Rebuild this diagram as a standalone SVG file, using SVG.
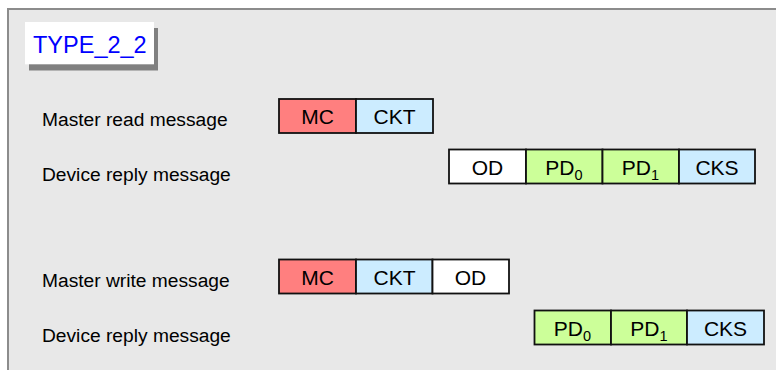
<svg xmlns="http://www.w3.org/2000/svg" width="776" height="370" viewBox="0 0 776 370">
<style>
.lbl{font-family:"Liberation Sans",Arial,sans-serif;font-size:19.2px;fill:#000}
.bt{font-family:"Liberation Sans",Arial,sans-serif;font-size:21px;fill:#000;text-anchor:middle}
.sub{font-size:14.5px}
.box{stroke:#111;stroke-width:1.8}
.mc{fill:#FF7F7F}
.ck{fill:#CCECFF}
.pd{fill:#CCFF99}
.od{fill:#FFFFFF}
</style>
<rect x="0" y="0" width="776" height="370" fill="#FFFFFF"/>
<rect x="8" y="9" width="780" height="380" fill="#E8E8E8" stroke="#8C8C8C" stroke-width="2"/>
<g id="title">
<rect x="29" y="28" width="129" height="42.5" fill="#808080"/>
<rect x="25" y="22" width="129" height="42.3" fill="#FFFFFF"/>
<text x="33" y="53.3" font-family="Liberation Sans, Arial, sans-serif" font-size="23.5" fill="#0000FF">TYPE_2_2</text>
</g>
<g id="labels">
<text class="lbl" x="42" y="126">Master read message</text>
<text class="lbl" x="42" y="181">Device reply message</text>
<text class="lbl" x="42" y="286.7">Master write message</text>
<text class="lbl" x="42" y="342">Device reply message</text>
</g>
<g id="master-read">
<rect class="box mc" x="279" y="99" width="77" height="34"/>
<rect class="box ck" x="356" y="99" width="77" height="34"/>
<text class="bt" x="317.5" y="124">MC</text>
<text class="bt" x="394.5" y="124">CKT</text>
</g>
<g id="device-reply-1">
<rect class="box od" x="449" y="149.5" width="77" height="34"/>
<rect class="box pd" x="526" y="149.5" width="76.5" height="34"/>
<rect class="box pd" x="602.5" y="149.5" width="76.5" height="34"/>
<rect class="box ck" x="679" y="149.5" width="76" height="34"/>
<text class="bt" x="487.5" y="174.5">OD</text>
<text class="bt" x="564" y="174.5">PD<tspan class="sub" dy="5.5">0</tspan></text>
<text class="bt" x="640.5" y="174.5">PD<tspan class="sub" dy="5.5">1</tspan></text>
<text class="bt" x="717" y="174.5">CKS</text>
</g>
<g id="master-write">
<rect class="box mc" x="279" y="259.5" width="77" height="34"/>
<rect class="box ck" x="356" y="259.5" width="76.5" height="34"/>
<rect class="box od" x="432.5" y="259.5" width="76.5" height="34"/>
<text class="bt" x="317.5" y="284.5">MC</text>
<text class="bt" x="394.5" y="284.5">CKT</text>
<text class="bt" x="470.5" y="284.5">OD</text>
</g>
<g id="device-reply-2">
<rect class="box pd" x="534.5" y="310.5" width="76.5" height="34"/>
<rect class="box pd" x="611" y="310.5" width="76" height="34"/>
<rect class="box ck" x="687" y="310.5" width="77" height="34"/>
<text class="bt" x="572.5" y="335.5">PD<tspan class="sub" dy="5.5">0</tspan></text>
<text class="bt" x="649" y="335.5">PD<tspan class="sub" dy="5.5">1</tspan></text>
<text class="bt" x="725.5" y="335.5">CKS</text>
</g>
<g id="connectors"></g>
</svg>
